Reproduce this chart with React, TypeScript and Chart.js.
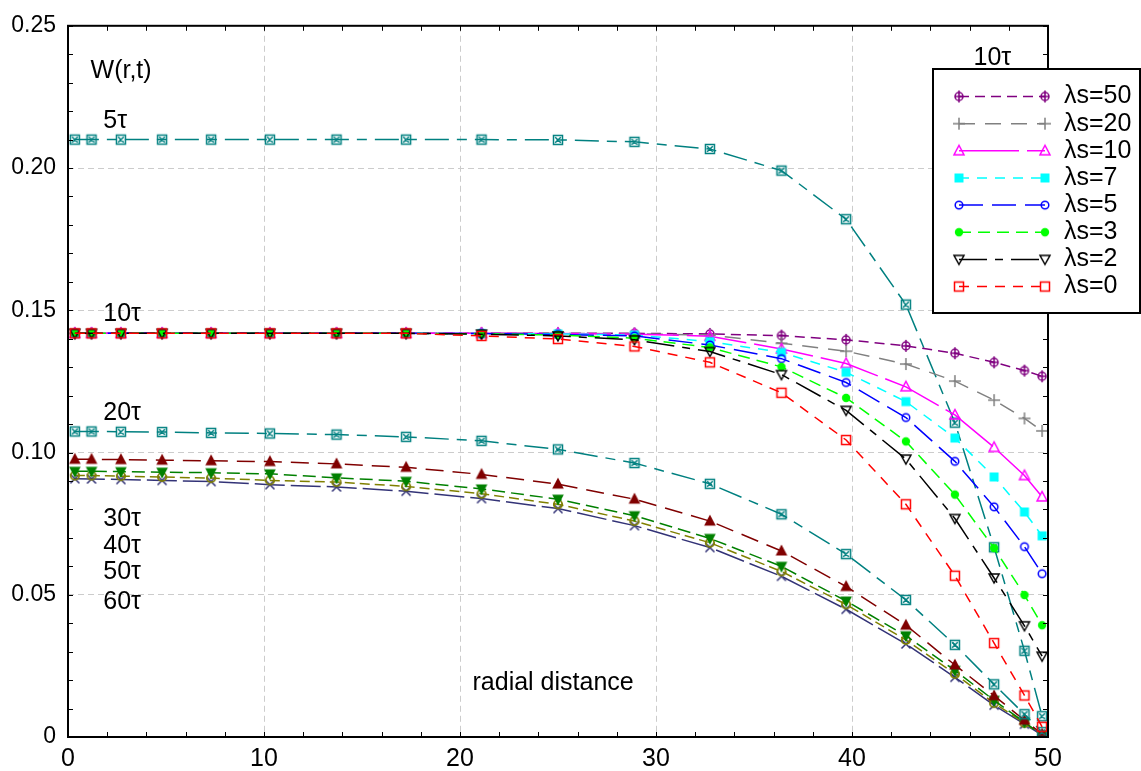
import React, { useEffect, useRef } from 'react';
import { Chart, registerables } from 'chart.js';

Chart.register(...registerables);

// ---------- data ----------
const radialPositions = [0.35, 1.2, 2.7, 4.8, 7.3, 10.3, 13.7, 17.25, 21.1, 25.0, 28.9, 32.75, 36.4, 39.7, 42.75, 45.25, 47.25, 48.8, 49.7];

const w5tau = [0.2100, 0.2100, 0.2100, 0.2100, 0.2100, 0.2100, 0.2100, 0.2100, 0.2100, 0.2099, 0.2092, 0.2067, 0.1991, 0.1820, 0.1520, 0.1105, 0.0667, 0.0303, 0.0073];
const w20tau = [0.1074, 0.1074, 0.1073, 0.1072, 0.1069, 0.1067, 0.1063, 0.1055, 0.1041, 0.1011, 0.0963, 0.0890, 0.0783, 0.0643, 0.0482, 0.0324, 0.0185, 0.0080, 0.0017];
const w30tau = [0.0976, 0.0976, 0.0975, 0.0973, 0.0971, 0.0968, 0.0960, 0.0948, 0.0923, 0.0889, 0.0836, 0.0759, 0.0654, 0.0529, 0.0393, 0.0253, 0.0145, 0.0059, 0.0010];
const w40tau = [0.0934, 0.0934, 0.0933, 0.0931, 0.0929, 0.0925, 0.0911, 0.0899, 0.0872, 0.0836, 0.0778, 0.0698, 0.0600, 0.0478, 0.0356, 0.0234, 0.0129, 0.0052, 0.0007];
const w50tau = [0.0919, 0.0919, 0.0917, 0.0914, 0.0910, 0.0902, 0.0896, 0.0881, 0.0855, 0.0818, 0.0759, 0.0683, 0.0582, 0.0466, 0.0341, 0.0222, 0.0119, 0.0049, 0.0007];
const w60tau = [0.0908, 0.0907, 0.0905, 0.0902, 0.0898, 0.0887, 0.0879, 0.0864, 0.0838, 0.0803, 0.0743, 0.0666, 0.0565, 0.0449, 0.0327, 0.0210, 0.0112, 0.0045, 0.0007];

// 10 tau, various lambda*s
const lam50 = [0.1419, 0.1419, 0.1419, 0.1419, 0.1419, 0.1419, 0.1419, 0.1419, 0.1419, 0.1419, 0.1419, 0.1417, 0.1411, 0.1396, 0.1375, 0.1349, 0.1317, 0.1288, 0.1268];
const lam20 = [0.1419, 0.1419, 0.1419, 0.1419, 0.1419, 0.1419, 0.1419, 0.1419, 0.1419, 0.1419, 0.1417, 0.1413, 0.1384, 0.1356, 0.1311, 0.1251, 0.1184, 0.1120, 0.1076];
const lam10 = [0.1419, 0.1419, 0.1419, 0.1419, 0.1419, 0.1419, 0.1419, 0.1419, 0.1419, 0.1418, 0.1416, 0.1409, 0.1364, 0.1313, 0.1231, 0.1132, 0.1018, 0.0919, 0.0844];
const lam7 = [0.1419, 0.1419, 0.1419, 0.1419, 0.1419, 0.1419, 0.1419, 0.1419, 0.1418, 0.1417, 0.1413, 0.1390, 0.1352, 0.1282, 0.1179, 0.1051, 0.0914, 0.0791, 0.0707];
const lam5 = [0.1419, 0.1419, 0.1419, 0.1419, 0.1419, 0.1419, 0.1419, 0.1419, 0.1418, 0.1415, 0.1410, 0.1378, 0.1330, 0.1246, 0.1123, 0.0969, 0.0809, 0.0669, 0.0574];
const lam3 = [0.1419, 0.1419, 0.1419, 0.1419, 0.1419, 0.1419, 0.1419, 0.1419, 0.1417, 0.1413, 0.1402, 0.1369, 0.1301, 0.1192, 0.1039, 0.0852, 0.0664, 0.0499, 0.0393];
const lam2 = [0.1419, 0.1419, 0.1419, 0.1419, 0.1419, 0.1419, 0.1419, 0.1419, 0.1416, 0.1410, 0.1396, 0.1355, 0.1274, 0.1148, 0.0977, 0.0768, 0.0559, 0.0391, 0.0284];
const lam0 = [0.1419, 0.1419, 0.1419, 0.1419, 0.1419, 0.1419, 0.1419, 0.1419, 0.1410, 0.1399, 0.1373, 0.1317, 0.1210, 0.1044, 0.0818, 0.0567, 0.0330, 0.0146, 0.0036];

const legendLabels = ['λs=50', 'λs=20', 'λs=10', 'λs=7', 'λs=5', 'λs=3', 'λs=2', 'λs=0'];
const xTickLabels = ['0', '10', '20', '30', '40', '50'];
const yTickLabels = ['0', '0.05', '0.10', '0.15', '0.20', '0.25'];

// text annotations anchored in data coordinates
const annotations = [
  { text: 'W(r,t)', x: 1.15, y: 0.2340, align: 'left' },
  { text: '5τ', x: 1.8, y: 0.2165, align: 'left' },
  { text: '10τ', x: 1.8, y: 0.1488, align: 'left' },
  { text: '20τ', x: 1.8, y: 0.1140, align: 'left' },
  { text: '30τ', x: 1.8, y: 0.0765, align: 'left' },
  { text: '40τ', x: 1.8, y: 0.0672, align: 'left' },
  { text: '50τ', x: 1.8, y: 0.0578, align: 'left' },
  { text: '60τ', x: 1.8, y: 0.0474, align: 'left' },
  { text: '10τ', x: 46.2, y: 0.2388, align: 'left' },
  { text: 'radial distance', x: 24.75, y: 0.0188, align: 'center' },
];

const FONT = "'Liberation Sans', Arial, Helvetica, sans-serif";

// ---------- markers ----------
function makeMarker(kind: string, color: string): HTMLCanvasElement {
  const c = document.createElement('canvas');
  c.width = 20;
  c.height = 20;
  const g = c.getContext('2d') as CanvasRenderingContext2D;
  g.translate(10, 10);
  g.strokeStyle = color;
  g.fillStyle = color;
  g.lineWidth = 1.5;
  g.beginPath();
  switch (kind) {
    case 'boxX':
      g.rect(-4.5, -4.5, 9, 9);
      g.moveTo(-2.8, -2.8); g.lineTo(2.8, 2.8);
      g.moveTo(2.8, -2.8); g.lineTo(-2.8, 2.8);
      g.stroke();
      break;
    case 'circlePlus':
      g.arc(0, 0, 4, 0, Math.PI * 2);
      g.moveTo(0, -6); g.lineTo(0, 6);
      g.moveTo(-4, 0); g.lineTo(4, 0);
      g.stroke();
      break;
    case 'plus':
      g.moveTo(0, -6); g.lineTo(0, 6);
      g.moveTo(-6, 0); g.lineTo(6, 0);
      g.stroke();
      break;
    case 'triOpen':
      g.moveTo(0, -5.5); g.lineTo(5, 4); g.lineTo(-5, 4); g.closePath();
      g.stroke();
      break;
    case 'triDownOpen':
      g.moveTo(0, 5); g.lineTo(5, -4); g.lineTo(-5, -4); g.closePath();
      g.stroke();
      break;
    case 'sqFill':
      g.rect(-4.5, -4.5, 9, 9);
      g.fill();
      break;
    case 'sqOpen':
      g.rect(-4.5, -4.5, 9, 9);
      g.stroke();
      break;
    case 'circleOpen':
      g.arc(0, 0, 3.8, 0, Math.PI * 2);
      g.stroke();
      break;
    case 'circleFill':
      g.arc(0, 0, 4.2, 0, Math.PI * 2);
      g.fill();
      break;
    case 'triFill':
      g.moveTo(0, -6.5); g.lineTo(5.8, 4.5); g.lineTo(-5.8, 4.5); g.closePath();
      g.fill();
      break;
    case 'triDownFill':
      g.moveTo(0, 6.5); g.lineTo(5.8, -4.5); g.lineTo(-5.8, -4.5); g.closePath();
      g.fill();
      break;
    case 'circleOlive':
      g.lineWidth = 1.8;
      g.arc(0, 0, 4.2, 0, Math.PI * 2);
      g.stroke();
      break;
    case 'xCross':
      g.moveTo(-4.5, -4.5); g.lineTo(4.5, 4.5);
      g.moveTo(4.5, -4.5); g.lineTo(-4.5, 4.5);
      g.stroke();
      break;
  }
  return c;
}

function series(label: string, values: number[], color: string, dash: number[], marker: string) {
  return {
    label,
    data: radialPositions.map((r, i) => ({ x: r, y: values[i] })),
    borderColor: color,
    backgroundColor: color,
    borderWidth: 1.5,
    borderDash: dash,
    pointStyle: makeMarker(marker, color),
    pointRadius: 5,
    pointHoverRadius: 5,
    tension: 0,
    fill: false,
  };
}

export default function App() {
  const ref = useRef<HTMLCanvasElement | null>(null);

  useEffect(() => {
    if (!ref.current) return;

    const lambdaSets = [
      series(legendLabels[0], lam50, '#800080', [10, 6], 'circlePlus'),
      series(legendLabels[1], lam20, '#808080', [16, 10], 'plus'),
      series(legendLabels[2], lam10, '#ff00ff', [60, 8], 'triOpen'),
      series(legendLabels[3], lam7, '#00ffff', [10, 8], 'sqFill'),
      series(legendLabels[4], lam5, '#0000ff', [24, 9], 'circleOpen'),
      series(legendLabels[5], lam3, '#00ff00', [12, 7], 'circleFill'),
      series(legendLabels[6], lam2, '#000000', [28, 8, 8, 8], 'triDownOpen'),
      series(legendLabels[7], lam0, '#ff0000', [10, 8], 'sqOpen'),
    ];
    const others = [
      series('5τ', w5tau, '#008080', [24, 8, 10, 8], 'boxX'),
      series('20τ', w20tau, '#008080', [24, 8, 10, 8], 'boxX'),
      series('30τ', w30tau, '#800000', [18, 9], 'triFill'),
      series('40τ', w40tau, '#008000', [13, 6], 'triDownFill'),
      series('50τ', w50tau, '#808000', [10, 5], 'circleOlive'),
      series('60τ', w60tau, '#333377', [30, 6], 'xCross'),
    ];
    // first dataset is drawn on top
    const datasets = [...lambdaSets.slice().reverse(), ...others];

    const framePlugin = {
      id: 'framePlugin',
      afterDatasetsDraw(chart: any) {
        const { ctx, chartArea: a, scales } = chart;
        const xs = scales.x;
        const ys = scales.y;
        ctx.save();
        // inward ticks
        ctx.strokeStyle = '#000';
        ctx.lineWidth = 1;
        ctx.setLineDash([]);
        ctx.beginPath();
        for (let v = 0; v <= 50.001; v += 2) {
          const px = Math.round(xs.getPixelForValue(v)) + 0.5;
          ctx.moveTo(px, a.bottom); ctx.lineTo(px, a.bottom - 5);
          ctx.moveTo(px, a.top); ctx.lineTo(px, a.top + 5);
        }
        for (let k = 0; k <= 25; k++) {
          const py = Math.round(ys.getPixelForValue(k * 0.01)) + 0.5;
          ctx.moveTo(a.left, py); ctx.lineTo(a.left + 5, py);
          ctx.moveTo(a.right, py); ctx.lineTo(a.right - 5, py);
        }
        ctx.stroke();
        // frame
        ctx.lineWidth = 2;
        ctx.strokeRect(a.left, a.top, a.right - a.left, a.bottom - a.top);

        // annotations
        ctx.fillStyle = '#000';
        ctx.font = `25px ${FONT}`;
        ctx.textBaseline = 'middle';
        annotations.forEach((an) => {
          ctx.textAlign = an.align as CanvasTextAlign;
          ctx.fillText(an.text, xs.getPixelForValue(an.x), ys.getPixelForValue(an.y));
        });

        // legend box
        const bx = 933, by = 69, bw = 207, bh = 244;
        ctx.fillStyle = '#fff';
        ctx.fillRect(bx, by, bw, bh);
        ctx.lineWidth = 2;
        ctx.strokeStyle = '#000';
        ctx.strokeRect(bx, by, bw, bh);
        lambdaSets.forEach((ds: any, i: number) => {
          const yy = 96.5 + i * 27.15;
          ctx.save();
          ctx.strokeStyle = ds.borderColor;
          ctx.lineWidth = ds.borderWidth;
          ctx.setLineDash(ds.borderDash);
          ctx.beginPath();
          ctx.moveTo(959, yy);
          ctx.lineTo(1045, yy);
          ctx.stroke();
          ctx.restore();
          const img = ds.pointStyle as HTMLCanvasElement;
          ctx.drawImage(img, 959 - img.width / 2, yy - img.height / 2);
          ctx.drawImage(img, 1045 - img.width / 2, yy - img.height / 2);
          ctx.fillStyle = '#000';
          ctx.textAlign = 'left';
          ctx.textBaseline = 'middle';
          ctx.font = `25px ${FONT}`;
          ctx.fillText(ds.label, 1064, yy);
        });
        ctx.restore();
      },
    };

    const chart = new Chart(ref.current, {
      type: 'line',
      data: { datasets },
      options: {
        animation: false,
        responsive: false,
        events: [],
        layout: { padding: { top: 20, right: 93, left: 0, bottom: 0 } },
        plugins: { legend: { display: false }, tooltip: { enabled: false } },
        scales: {
          x: {
            type: 'linear',
            min: 0,
            max: 50,
            afterFit: (s: any) => { s.height = 34; },
            ticks: {
              stepSize: 10,
              color: '#000',
              padding: 7,
              maxRotation: 0,
              font: { family: FONT, size: 25 },
              callback: (v: any) => xTickLabels[Math.round(Number(v) / 10)] ?? '',
            },
            grid: { color: '#cccccc', lineWidth: 1, drawTicks: false },
            border: { display: false, dash: [6, 4] },
          },
          y: {
            type: 'linear',
            min: 0,
            max: 0.25,
            afterFit: (s: any) => { s.width = 68; },
            ticks: {
              stepSize: 0.05,
              color: '#000',
              padding: 12,
              font: { family: FONT, size: 23 },
              callback: (v: any) => yTickLabels[Math.round(Number(v) / 0.05)] ?? '',
            },
            grid: { color: '#cccccc', lineWidth: 1, drawTicks: false },
            border: { display: false, dash: [6, 4] },
          },
        },
      },
      plugins: [framePlugin],
    } as any);

    return () => chart.destroy();
  }, []);

  return (
    <div style={{ position: 'absolute', left: 0, top: 0, width: 1141, height: 771, background: '#fff' }}>
      <canvas ref={ref} width={1141} height={771} style={{ display: 'block' }} />
    </div>
  );
}
